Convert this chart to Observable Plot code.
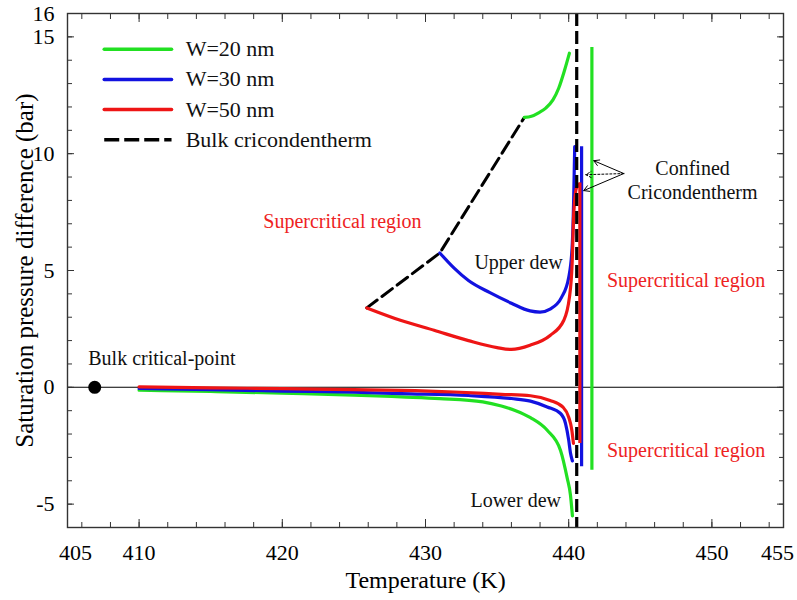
<!DOCTYPE html>
<html><head><meta charset="utf-8">
<script src="https://cdn.jsdelivr.net/npm/d3@7"></script>
<script src="https://cdn.jsdelivr.net/npm/@observablehq/plot@0.6"></script>
<style>body{margin:0;background:#fff;} #chart{width:797px;height:600px;} #chart svg, #chart svg text{font-family:"Liberation Serif","Times New Roman",serif;}</style>
</head><body><div id="chart"></div>
<script>
// ---- series names / colours
const seriesNames = ["W=20 nm", "W=30 nm", "W=50 nm"];
const seriesColors = ["#22e022", "#1212e0", "#ee1515"];
const bulkLabel = "Bulk cricondentherm";

// ---- bulk cricondentherm locus (dashed)
const bulkLocusT = [425.9, 431.0, 436.9];
const bulkLocusP = [3.4, 5.75, 11.55];
const bulkCricondenthermT = 440.56;
const bulkCriticalT = 406.9;
const bulkCriticalP = 0;

// ---- W=20 nm
const g20UpperT = [436.9, 437.4, 437.9, 438.4, 438.9, 439.3, 439.7, 440.05];
const g20UpperP = [11.55, 11.6, 11.75, 11.95, 12.3, 12.8, 13.55, 14.3];
const g20LowerT = [410, 415, 420, 425, 428.3, 431, 434, 435.3, 436.3, 437.33, 438.5, 439.43, 439.9, 440.12, 440.26];
const g20LowerP = [-0.12, -0.18, -0.25, -0.33, -0.41, -0.48, -0.62, -0.8, -1.0, -1.3, -1.84, -2.7, -3.9, -4.6, -5.5];
const g20VertT = 441.62, g20VertTop = 14.55, g20VertBottom = -3.55;

// ---- W=30 nm
const b30UpperT = [431.0, 432.0, 433.0, 434.5, 436.0, 437.3, 438.0, 438.7, 439.5, 440.0, 440.24, 440.35, 440.42];
const b30UpperP = [5.75, 5.1, 4.57, 4.05, 3.6, 3.27, 3.22, 3.35, 3.85, 4.7, 6.0, 8.1, 10.3];
const b30LowerT = [410, 415, 420, 425, 428.3, 433, 436, 437.33, 438.5, 439.43, 439.78, 440.0, 440.12, 440.26];
const b30LowerP = [-0.05, -0.1, -0.16, -0.21, -0.27, -0.35, -0.48, -0.59, -0.84, -1.12, -1.55, -2.26, -2.8, -3.15];
const b30VertT = 440.9, b30VertTop = 10.3, b30VertBottom = -3.4;

// ---- W=50 nm
const r50UpperT = [425.9, 428.3, 430.6, 433.0, 435.0, 436.0, 437.3, 438.7, 439.65, 440.05, 440.24, 440.35, 440.55, 440.75];
const r50UpperP = [3.4, 2.86, 2.44, 2.0, 1.7, 1.62, 1.8, 2.22, 2.86, 3.85, 5.3, 7.4, 8.55, 8.7];
const r50LowerT = [410, 415, 420, 425, 428.3, 432, 435.3, 437.33, 438.7, 439.6, 440.0, 440.22, 440.33];
const r50LowerP = [0.02, -0.02, -0.06, -0.1, -0.13, -0.2, -0.3, -0.36, -0.56, -0.85, -1.28, -1.84, -2.4];
const r50VertT = 440.78, r50VertTop = 8.75, r50VertBottom = -2.4;

// ---- axis ticks
const xMinorTicks = d3.range(406, 455, 2);
const xMajorTicks = [410, 420, 430, 440, 450];
const xLabelTicks = [410, 420, 430, 440, 450];
const yMinorTicks = d3.range(-5, 16, 1);
const yMajorTicks = [-5, 0, 5, 10, 15];
const yLabelTicks = [-5, 0, 5, 10, 15, 16];

// ---- annotations
const annoText = ["Supercritical region", "Supercritical region", "Supercritical region", "Upper dew", "Lower dew", "Confined", "Cricondentherm"];
const annoT = [424.2, 448.2, 448.2, 436.5, 436.3, 448.65, 448.65];
const annoP = [7.1, 4.57, -2.69, 5.34, -4.83, 9.36, 8.33];
const annoColor = ["#ee2222", "#ee2222", "#ee2222", "#111", "#111", "#111", "#111"];
const criticalLabel = "Bulk critical-point";
const criticalLabelT = 406.45, criticalLabelP = 1.24;

// arrows from "Confined Cricondentherm" to the three confined cricondentherms
const arrowFromT = [443.85, 443.85, 443.85];
const arrowFromP = [9.15, 9.15, 9.15];
const arrowToT = [441.75, 441.2, 441.05];
const arrowToP = [9.7, 9.1, 8.42];
const arrowDash = [null, "2,2", null];

// ---- build tables
const zip = (T, P, s) => T.map((t, i) => ({T: t, P: P[i], s}));
const curves = [
  zip(g20UpperT, g20UpperP, 0), zip(g20LowerT, g20LowerP, 0),
  zip(b30UpperT, b30UpperP, 1), zip(b30LowerT, b30LowerP, 1),
  zip(r50UpperT, r50UpperP, 2), zip(r50LowerT, r50LowerP, 2)
];
const verticals = [
  {T: g20VertT, top: g20VertTop, bottom: g20VertBottom, s: 0},
  {T: b30VertT, top: b30VertTop, bottom: b30VertBottom, s: 1},
  {T: r50VertT, top: r50VertTop, bottom: r50VertBottom, s: 2}
];
const locus = zip(bulkLocusT, bulkLocusP, 3);
const annos = annoText.map((t, i) => ({t, T: annoT[i], P: annoP[i], c: annoColor[i]}));
const arrows = arrowFromT.map((t, i) => ({x1: t, y1: arrowFromP[i], x2: arrowToT[i], y2: arrowToP[i], d: arrowDash[i]}));

// legend layout (data coordinates inside the frame)
const legX1 = 407.6, legX2 = 412.3, legTextX = 413.25, legTop = 14.47, legStep = 1.29;
const legend = seriesNames.map((n, i) => ({n, c: seriesColors[i], y: legTop - i * legStep}));
const legendBulk = {n: bulkLabel, y: legTop - 3 * legStep};

const font = "'Liberation Serif', 'Times New Roman', serif";
const curveWidth = 3.2;

const marks = [
  Plot.ruleY([0], {stroke: "#000", strokeWidth: 1.1}),
  // ticks (inward)
  Plot.axisX(xMinorTicks, {anchor: "bottom", tickSize: -5, tickFormat: () => "", label: null, stroke: "#333"}),
  Plot.axisX(xMajorTicks, {anchor: "bottom", tickSize: -8, tickFormat: () => "", label: null, stroke: "#333"}),
  Plot.axisX(xMinorTicks, {anchor: "top", tickSize: -5, tickFormat: () => "", label: null, stroke: "#333"}),
  Plot.axisX(xMajorTicks, {anchor: "top", tickSize: -8, tickFormat: () => "", label: null, stroke: "#333"}),
  Plot.axisY(yMinorTicks, {anchor: "left", tickSize: -5, tickFormat: () => "", label: null, stroke: "#333"}),
  Plot.axisY(yMajorTicks, {anchor: "left", tickSize: -7, tickFormat: () => "", label: null, stroke: "#333"}),
  Plot.axisY(yMinorTicks, {anchor: "right", tickSize: -5, tickFormat: () => "", label: null, stroke: "#333"}),
  Plot.axisY(yMajorTicks, {anchor: "right", tickSize: -7, tickFormat: () => "", label: null, stroke: "#333"}),
  // tick labels
  Plot.axisX(xLabelTicks, {anchor: "bottom", tickSize: 0, tickPadding: 17, label: null, fontSize: 22, fontFamily: font, tickFormat: d => String(d)}),
  Plot.axisX([405], {anchor: "bottom", tickSize: 0, tickPadding: 17, label: null, fontSize: 22, fontFamily: font, dx: 8, tickFormat: d => String(d)}),
  Plot.axisX([455], {anchor: "bottom", tickSize: 0, tickPadding: 17, label: null, fontSize: 22, fontFamily: font, dx: -6, tickFormat: d => String(d)}),
  Plot.axisY(yLabelTicks, {anchor: "left", tickSize: 0, tickPadding: 13, label: null, fontSize: 22, fontFamily: font, tickFormat: d => String(d)}),
  // axis titles
  Plot.text(["Temperature (K)"], {frameAnchor: "bottom", dy: 53, lineAnchor: "middle", textAnchor: "middle", fontSize: 24, fontFamily: font, fill: "#000"}),
  Plot.text(["Saturation pressure difference (bar)"], {frameAnchor: "left", dx: -43, rotate: -90, textAnchor: "middle", lineAnchor: "middle", fontSize: 25, fontFamily: font, fill: "#000"}),
  // bulk cricondentherm
  Plot.line(locus, {x: "T", y: "P", stroke: "#000", strokeWidth: 3, strokeDasharray: "13,6"}),
  // curves
  ...curves.map(c => Plot.line(c, {x: "T", y: "P", stroke: seriesColors[c[0].s], strokeWidth: curveWidth, curve: "monotone-x"})),
  Plot.ruleX(verticals, {x: "T", y1: "bottom", y2: "top", stroke: d => seriesColors[d.s], strokeWidth: curveWidth}),
  Plot.ruleX([bulkCricondenthermT], {stroke: "#000", strokeWidth: 3.2, strokeDasharray: "13,5"}),
  Plot.dot([{T: bulkCriticalT, P: bulkCriticalP}], {x: "T", y: "P", r: 6.5, fill: "#000"}),
  Plot.text([criticalLabel], {x: criticalLabelT, y: criticalLabelP, textAnchor: "start", fontSize: 20, fontFamily: font, fill: "#111"}),
  // annotations
  Plot.text(annos, {x: "T", y: "P", text: "t", fill: "c", fontSize: 20, fontFamily: font}),
  ...arrows.map(a => Plot.arrow([a], {x1: "x1", y1: "y1", x2: "x2", y2: "y2", stroke: "#000", strokeWidth: 1, headLength: 9, strokeDasharray: a.d})),
  // legend
  Plot.ruleY(legend, {x1: legX1, x2: legX2, y: "y", stroke: "c", strokeWidth: 3.5, strokeLinecap: "round"}),
  Plot.ruleY([legendBulk], {x1: legX1, x2: legX2, y: "y", stroke: "#000", strokeWidth: 3.5, strokeDasharray: "15,5"}),
  Plot.text([...legend, legendBulk], {x: legTextX, y: "y", text: "n", textAnchor: "start", fontSize: 22, fontFamily: font, fill: "#111"}),
  Plot.frame({stroke: "#333", strokeWidth: 1.4})
];

const chart = Plot.plot({
  width: 797,
  height: 600,
  marginLeft: 67,
  marginRight: 14,
  marginTop: 13,
  marginBottom: 73,
  style: `font-family: ${font}; font-size: 22px; color: #000; background: #fff;`,
  x: {domain: [405, 455], label: null},
  y: {domain: [-6, 16], label: null},
  marks
});
document.getElementById("chart").append(chart);
</script>
</body></html>
